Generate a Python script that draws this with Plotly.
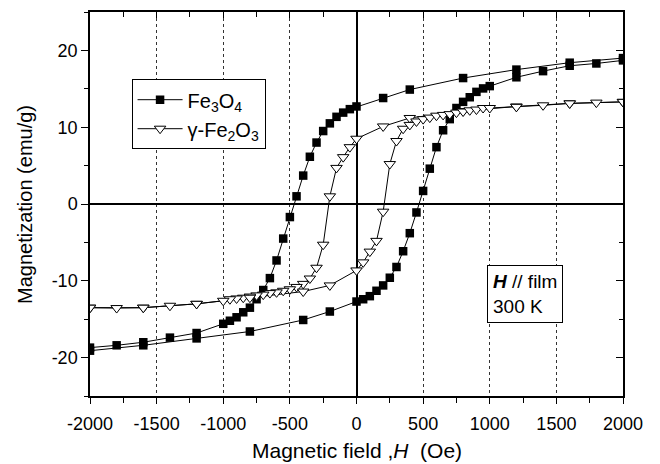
import plotly.graph_objects as go

# Fe3O4 loop: descending branch (from +H to -H) then ascending branch
fe3o4_desc_H = [2000, 1600, 1200, 800, 400, 200, 0, -50, -100, -150, -200, -250, -300, -350,
                -400, -450, -500, -550, -600, -650, -700, -750, -800, -850, -900, -950, -1000,
                -1200, -1400, -1600, -1800, -2000]
fe3o4_desc_M = [19.0, 18.4, 17.5, 16.4, 14.9, 13.8, 12.7, 12.35, 11.9, 11.35, 10.5, 9.5, 8.0, 6.15,
                3.7, 1.0, -1.7, -4.5, -7.35, -9.65, -11.2, -12.4, -13.5, -14.1, -14.75, -15.2, -15.6,
                -16.8, -17.4, -18.0, -18.4, -18.7]
fe3o4_asc_H = [-2000, -1600, -1200, -800, -400, -200, 0, 50, 100, 150, 200, 250, 300, 350, 400,
               450, 500, 550, 600, 650, 700, 750, 800, 850, 900, 950, 1000, 1200, 1400, 1600,
               1800, 2000]
fe3o4_asc_M = [-19.1, -18.4, -17.5, -16.6, -15.1, -14.0, -12.7, -12.4, -12.0, -11.3, -10.6, -9.6,
               -8.2, -6.15, -3.8, -1.1, 1.7, 4.6, 7.4, 9.6, 11.05, 12.5, 13.3, 13.9, 14.6, 15.05,
               15.35, 16.5, 17.3, 18.0, 18.3, 18.7]

# gamma-Fe2O3 loop
gfe2o3_desc_H = [2000, 1600, 1200, 800, 400, 200, 0, -50, -100, -150, -200, -250, -300, -350,
                 -400, -450, -500, -550, -600, -650, -700, -750, -800, -850, -900, -950, -1000,
                 -1200, -1400, -1600, -1800, -2000]
gfe2o3_desc_M = [13.3, 13.1, 12.7, 12.1, 11.2, 10.1, 8.5, 7.4, 6.1, 4.7, 1.0, -5.3, -8.3, -9.7,
                 -10.4, -10.8, -11.1, -11.3, -11.5, -11.6, -11.8, -11.9, -12.05, -12.2, -12.3,
                 -12.4, -12.6, -13.0, -13.25, -13.5, -13.55, -13.5]
gfe2o3_asc_H = [-2000, -1600, -1200, -800, -400, -200, 0, 50, 100, 150, 200, 250, 300, 350, 400,
                450, 500, 550, 600, 650, 700, 750, 800, 850, 900, 950, 1000, 1200, 1400, 1600,
                1800, 2000]
gfe2o3_asc_M = [-13.5, -13.5, -13.0, -12.2, -11.4, -10.6, -8.65, -7.6, -6.2, -4.8, -1.0, 5.2, 8.2,
                9.8, 10.3, 10.75, 11.05, 11.25, 11.5, 11.6, 11.7, 11.9, 12.04, 12.2, 12.3, 12.5,
                12.5, 12.65, 12.85, 13.1, 13.2, 13.3]

series_names = ["Fe<sub>3</sub>O<sub>4</sub>", "γ-Fe<sub>2</sub>O<sub>3</sub>"]
x_ticks = [-2000, -1500, -1000, -500, 0, 500, 1000, 1500, 2000]
y_ticks = [-20, -10, 0, 10, 20]
x_title = "Magnetic field ,<i>H</i>\u00a0 (Oe)"
y_title = "Magnetization (emu/g)"

FONT = "Arial, Liberation Sans, sans-serif"

fig = go.Figure()
fig.add_trace(go.Scatter(
    x=fe3o4_desc_H + fe3o4_asc_H, y=fe3o4_desc_M + fe3o4_asc_M,
    mode="lines+markers", name=series_names[0],
    line=dict(color="black", width=1),
    marker=dict(symbol="square", size=8.5, color="black"),
))
fig.add_trace(go.Scatter(
    x=gfe2o3_desc_H + gfe2o3_asc_H, y=gfe2o3_desc_M + gfe2o3_asc_M,
    mode="lines+markers", name=series_names[1],
    line=dict(color="black", width=1),
    marker=dict(symbol="triangle-down", size=10, color="white",
                line=dict(color="black", width=1)),
))

fig.update_layout(
    width=660, height=464,
    margin=dict(l=90, r=37, t=10, b=68),
    paper_bgcolor="white", plot_bgcolor="white",
    font=dict(family=FONT, size=18, color="black"),
    showlegend=True,
    legend=dict(x=0.078, y=0.825, xanchor="left", yanchor="top",
                bordercolor="black", borderwidth=1, bgcolor="white",
                font=dict(family=FONT, size=20, color="black"),
                tracegroupgap=0, itemwidth=45),
    xaxis=dict(
        range=[-2000, 2000], tickvals=x_ticks, ticktext=[str(v) for v in x_ticks],
        ticks="outside", ticklen=6, tickwidth=1.2, tickcolor="black",
        minor=dict(ticks="outside", ticklen=5, dtick=250, tick0=0, tickcolor="black", showgrid=False),
        showline=True, linecolor="black", linewidth=1.5, mirror=True,
        showgrid=True, gridcolor="#333333", gridwidth=0.8, griddash="3px,3px",
        zeroline=True, zerolinecolor="black", zerolinewidth=1.5,
        tickfont=dict(size=18), ticklabelstandoff=5,
    ),
    yaxis=dict(
        range=[-25, 25], tickvals=y_ticks, ticktext=[str(v) for v in y_ticks],
        ticks="outside", ticklen=7, tickwidth=1.2, tickcolor="black",
        minor=dict(ticks="outside", ticklen=4, dtick=5, tick0=0, tickcolor="black", showgrid=False),
        showline=True, linecolor="black", linewidth=1.5, mirror=True,
        showgrid=False,
        zeroline=True, zerolinecolor="black", zerolinewidth=1.5,
        tickfont=dict(size=18),
    ),
    xaxis2=dict(
        range=[-2000, 2000], overlaying="x", side="top", matches="x",
        tickvals=x_ticks, showticklabels=False,
        ticks="inside", ticklen=6, tickwidth=1.2, tickcolor="black",
        minor=dict(ticks="inside", ticklen=5, dtick=250, tick0=0, tickcolor="black"),
        showgrid=False, zeroline=False, showline=False,
    ),
    yaxis2=dict(
        range=[-25, 25], overlaying="y", side="right", matches="y",
        tickvals=y_ticks, showticklabels=False,
        ticks="inside", ticklen=7, tickwidth=1.2, tickcolor="black",
        minor=dict(ticks="inside", ticklen=4, dtick=5, tick0=0, tickcolor="black"),
        showgrid=False, zeroline=False, showline=False,
    ),
)

fig.add_trace(go.Scatter(x=[None], y=[None], xaxis="x2", yaxis="y2",
                         showlegend=False, hoverinfo="skip"))

# axis titles
fig.add_annotation(
    xref="paper", yref="paper", x=0.5, y=-0.143, xanchor="center", yanchor="middle",
    text=x_title, showarrow=False, font=dict(family=FONT, size=21, color="black"),
)
fig.add_annotation(
    xref="paper", yref="paper", x=-0.122, y=0.5, xanchor="center", yanchor="middle",
    text=y_title, textangle=-90, showarrow=False,
    font=dict(family=FONT, size=20, color="black"),
)

fig.add_annotation(
    xref="paper", yref="paper", x=0.745, y=0.34, xanchor="left", yanchor="top",
    text="<b><i>H</i></b> // film<br>300 K", align="left", showarrow=False,
    font=dict(family=FONT, size=19, color="black"),
    bordercolor="black", borderwidth=1, borderpad=5, bgcolor="white",
)

fig.write_html("out.html")
